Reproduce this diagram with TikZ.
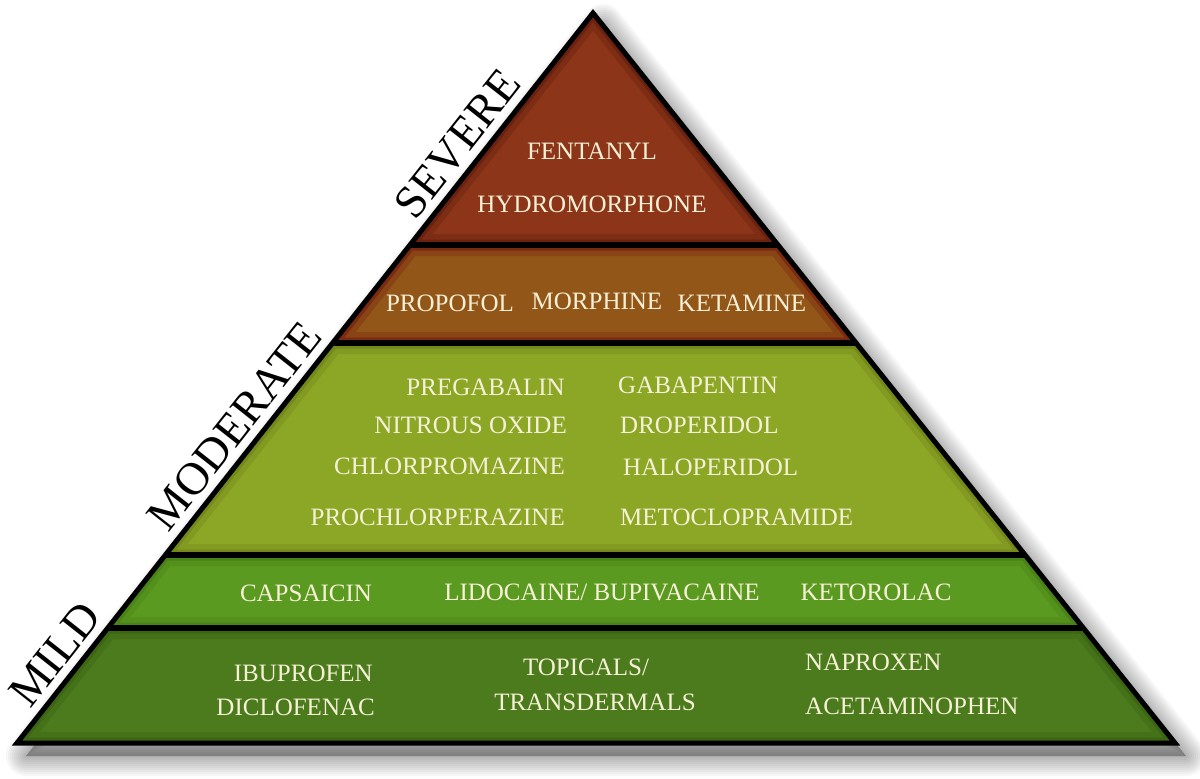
\documentclass[tikz,border=0pt]{standalone}
\usepackage{fontspec}
\setmainfont{Liberation Serif}
\definecolor{cream}{HTML}{F6F1D6}
\definecolor{sevM}{HTML}{8C3519}
\definecolor{sevE}{HTML}{6A2110}
\definecolor{proM}{HTML}{925618}
\definecolor{proE}{HTML}{7B2A12}
\definecolor{modM}{HTML}{8CA626}
\definecolor{modE}{HTML}{73891A}
\definecolor{capM}{HTML}{5B9A20}
\definecolor{capE}{HTML}{4A8218}
\definecolor{milM}{HTML}{4B7B1C}
\definecolor{milE}{HTML}{3C6614}
\newcommand\myband[3]{%
  \begin{scope}
    \clip #1;
    \fill[#2] #1;
    \draw[#3, line width=22pt, opacity=.4] #1;
    \draw[#3, line width=11pt] #1;
  \end{scope}}
\begin{document}
\begin{tikzpicture}[x=1pt,y=-1pt,
  drug/.style={text=cream, font=\fontsize{25}{29}\selectfont, inner sep=0pt},
  level/.style={text=black, font=\fontsize{46}{50}\selectfont, inner sep=0pt, anchor=base, rotate=51.7},
  sepline/.style={line width=6pt, black},
  shadowline/.style={draw=black, fill=black, opacity=.03, line join=round}]
\useasboundingbox (0,0) rectangle (1200,779);
\fill[white] (0,0) rectangle (1200,779);
% points
\coordinate (A) at (593,13);
\coordinate (L1) at (410,245); \coordinate (R1) at (778,245);
\coordinate (L2) at (333,343); \coordinate (R2) at (856,343);
\coordinate (L3) at (165,555); \coordinate (R3) at (1025,555);
\coordinate (L4) at (108,628); \coordinate (R4) at (1083,628);
\coordinate (L5) at (17,743);  \coordinate (R5) at (1175,743);
% shadow
\foreach \w in {40,36,...,4}{
  \filldraw[shadowline, line width=\w pt] (603,24) -- (1186,756) -- (26,756) -- cycle;
}
% bands
\myband{(A)--(R1)--(L1)--cycle}{sevM}{sevE}
\myband{(L1)--(R1)--(R2)--(L2)--cycle}{proM}{proE}
\myband{(L2)--(R2)--(R3)--(L3)--cycle}{modM}{modE}
\myband{(L3)--(R3)--(R4)--(L4)--cycle}{capM}{capE}
\myband{(L4)--(R4)--(R5)--(L5)--cycle}{milM}{milE}
% outlines
\draw[sepline] (L1) -- (R1);
\draw[sepline] (L2) -- (R2);
\draw[sepline] (L3) -- (R3);
\draw[sepline] (L4) -- (R4);
\draw[line width=5pt, line join=miter] (A) -- (R5) -- (L5) -- cycle;
% level labels
\node[level] (severe) at (469,153) {SEVERE};
\node[level] (moderate) at (246.5,435.6) {MODERATE};
\node[level] (mild) at (66.6,663.7) {MILD};
% severe
\node[drug, anchor=base] (fent) at (592,159) {FENTANYL};
\node[drug, anchor=base] (hydro) at (592,212) {HYDROMORPHONE};
% propofol band
\node[drug, anchor=base] (prop) at (450,311) {PROPOFOL};
\node[drug, anchor=base] (morph) at (597,309) {MORPHINE};
\node[drug, anchor=base] (ket) at (742,311) {KETAMINE};
% moderate
\node[drug, anchor=base east] (preg) at (565,395) {PREGABALIN};
\node[drug, anchor=base east] (nitr) at (567,433) {NITROUS OXIDE};
\node[drug, anchor=base east] (chlor) at (565,474) {CHLORPROMAZINE};
\node[drug, anchor=base east] (proch) at (565,525) {PROCHLORPERAZINE};
\node[drug, anchor=base west] (gaba) at (618,393) {GABAPENTIN};
\node[drug, anchor=base west] (drop) at (620,433) {DROPERIDOL};
\node[drug, anchor=base west] (halo) at (623,475) {HALOPERIDOL};
\node[drug, anchor=base west] (meto) at (620,525) {METOCLOPRAMIDE};
% capsaicin band
\node[drug, anchor=base] (caps) at (306,601) {CAPSAICIN};
\node[drug, anchor=base] (lido) at (602,600) {LIDOCAINE/ BUPIVACAINE};
\node[drug, anchor=base] (keto) at (876,600) {KETOROLAC};
% mild
\node[drug, anchor=base east] (ibu) at (373,681) {IBUPROFEN};
\node[drug, anchor=base east] (diclo) at (375,715) {DICLOFENAC};
\node[drug, anchor=base] (topi) at (586,675) {TOPICALS/};
\node[drug, anchor=base] (trans) at (595,710) {TRANSDERMALS};
\node[drug, anchor=base west] (napr) at (805,670) {NAPROXEN};
\node[drug, anchor=base west] (acet) at (805,714) {ACETAMINOPHEN};
\end{tikzpicture}
\end{document}
